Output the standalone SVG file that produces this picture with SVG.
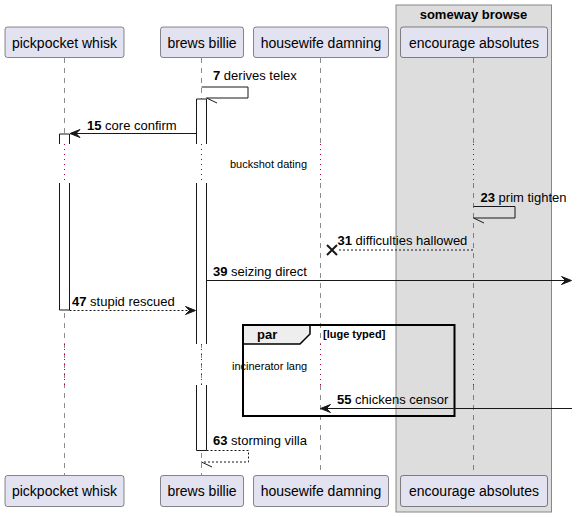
<svg xmlns="http://www.w3.org/2000/svg" width="578" height="517" viewBox="0 0 578 517">
<style>
.p{fill:#E2E2F0;stroke:#181818;stroke-width:0.5}
.pt{font-family:"Liberation Sans",Arial,sans-serif;font-size:14px;fill:#000;text-anchor:middle}
.life{stroke:#181818;stroke-width:0.5;stroke-dasharray:5,5;fill:none}
.delay{stroke:#A80036;stroke-width:1;stroke-dasharray:1,4;fill:none}
.actf{fill:#FFFFFF;stroke:none}
.act{fill:none;stroke:#181818;stroke-width:1}
.msg{stroke:#181818;stroke-width:1;fill:none}
.dash{stroke:#181818;stroke-width:1;fill:none;stroke-dasharray:2,2}
.ah{fill:#181818;stroke:#181818;stroke-width:1}
.lb{font-family:"Liberation Sans",Arial,sans-serif;font-size:13px;fill:#000}
.lb tspan.n{font-weight:bold}
.sm{font-family:"Liberation Sans",Arial,sans-serif;font-size:11px;fill:#000}
</style>
<g id="box-someway-browse">
<rect x="396" y="5" width="155.5" height="507" fill="#DDDDDD" stroke="#888888" stroke-width="1"/>
<text x="473.5" y="19" font-family="Liberation Sans,Arial,sans-serif" font-size="13" font-weight="bold" text-anchor="middle">someway browse</text>
</g>
<g id="lifelines">
<path class="life" d="M64.5,58V144M64.5,183V475"/>
<path class="life" d="M201.5,58V144M201.5,183V475"/>
<path class="life" d="M320.5,58V144M320.5,183V344M320.5,385V475"/>
<path class="life" d="M473.5,58V144M473.5,183V344M473.5,385V475"/>
</g>
<g id="activations">
<rect class="actf" x="59.5" y="134" width="10" height="10"/>
<rect class="actf" x="59.5" y="183" width="10" height="127"/>
<rect class="actf" x="196.5" y="99" width="10" height="45"/>
<rect class="actf" x="196.5" y="183" width="10" height="161"/>
<rect class="actf" x="196.5" y="385" width="10" height="65.5"/>
<path class="act" d="M59.5,144V134H69.5V144"/>
<path class="act" d="M59.5,183V310H69.5V183"/>
<path class="act" d="M196.5,144V99H206.5V144"/>
<path class="act" d="M196.5,183V344M206.5,183V344"/>
<path class="act" d="M196.5,385V450.5H206.5V385"/>
</g>
<g id="delays">
<path class="delay" d="M64.5,144V183M64.5,344V385"/>
<path class="delay" d="M201.5,144V183M201.5,344V385"/>
<path class="delay" d="M320.5,144V183M320.5,344V385"/>
<path class="delay" d="M473.5,144V183M473.5,344V385"/>
</g>
<g id="participant-pickpocket-whisk">
<rect class="p" x="5" y="27" width="119" height="30.5" rx="2.5"/>
<text class="pt" x="64.5" y="47.5">pickpocket whisk</text>
<rect class="p" x="5" y="475.5" width="119" height="31" rx="2.5"/>
<text class="pt" x="64.5" y="496">pickpocket whisk</text>
</g>
<g id="participant-brews-billie">
<rect class="p" x="160.5" y="27" width="83" height="30.5" rx="2.5"/>
<text class="pt" x="202" y="47.5">brews billie</text>
<rect class="p" x="160.5" y="475.5" width="83" height="31" rx="2.5"/>
<text class="pt" x="202" y="496">brews billie</text>
</g>
<g id="participant-housewife-damning">
<rect class="p" x="253.5" y="27" width="135" height="30.5" rx="2.5"/>
<text class="pt" x="321" y="47.5">housewife damning</text>
<rect class="p" x="253.5" y="475.5" width="135" height="31" rx="2.5"/>
<text class="pt" x="321" y="496">housewife damning</text>
</g>
<g id="participant-encourage-absolutes">
<rect class="p" x="400.5" y="27" width="147" height="30.5" rx="2.5"/>
<text class="pt" x="474" y="47.5">encourage absolutes</text>
<rect class="p" x="400.5" y="475.5" width="147" height="31" rx="2.5"/>
<text class="pt" x="474" y="496">encourage absolutes</text>
</g>
<g id="par-fragment">
<path d="M243,325H310V334L300,344H243Z" fill="#EEEEEE" stroke="#000" stroke-width="1.5"/>
<rect x="243" y="325" width="211.5" height="91" fill="none" stroke="#000" stroke-width="2"/>
<text x="257" y="339" font-family="Liberation Sans,Arial,sans-serif" font-size="13" font-weight="bold">par</text>
<text x="323" y="338" font-family="Liberation Sans,Arial,sans-serif" font-size="11" font-weight="bold">[luge typed]</text>
</g>
<g id="connectors">
<text class="sm" x="230" y="168">buckshot dating</text>
<text class="sm" x="232" y="370">incinerator lang</text>
<path class="msg" d="M201.5,87H248V98H206.5"/>
<path class="msg" d="M206.5,98L217,103"/>
<text class="lb" x="213" y="80"><tspan class="n">7</tspan> derives telex</text>
<path class="msg" d="M196.5,133.5H71"/>
<polygon class="ah" points="70,133.5 80,129.5 76,133.5 80,137.5"/>
<text class="lb" x="87" y="130"><tspan class="n">15</tspan> core confirm</text>
<path class="msg" d="M473.5,206.5H515V218H473.5"/>
<path class="msg" d="M473.5,218L484,223"/>
<text class="lb" x="480.5" y="202"><tspan class="n">23</tspan> prim tighten</text>
<path class="dash" d="M473,250H337"/>
<path d="M327,245L337,255M327,255L337,245" stroke="#181818" stroke-width="2" fill="none"/>
<text class="lb" x="337.5" y="245"><tspan class="n">31</tspan> difficulties hallowed</text>
<path class="msg" d="M206.5,280.5H570"/>
<polygon class="ah" points="571.5,280.5 561.5,276.5 565.5,280.5 561.5,284.5"/>
<text class="lb" x="213" y="276"><tspan class="n">39</tspan> seizing direct</text>
<path class="dash" d="M69.5,310.5H194"/>
<polygon class="ah" points="195.5,310.5 185.5,306.5 189.5,310.5 185.5,314.5"/>
<text class="lb" x="72" y="306"><tspan class="n">47</tspan> stupid rescued</text>
<path class="msg" d="M572,408.5H322"/>
<polygon class="ah" points="320.5,408.5 330.5,404.5 326.5,408.5 330.5,412.5"/>
<text class="lb" x="337" y="404"><tspan class="n">55</tspan> chickens censor</text>
<path class="dash" d="M206.5,450.5H248.5V462H201.5"/>
<path class="msg" d="M201.5,462L212,467"/>
<text class="lb" x="213" y="445"><tspan class="n">63</tspan> storming villa</text>
</g>
</svg>
